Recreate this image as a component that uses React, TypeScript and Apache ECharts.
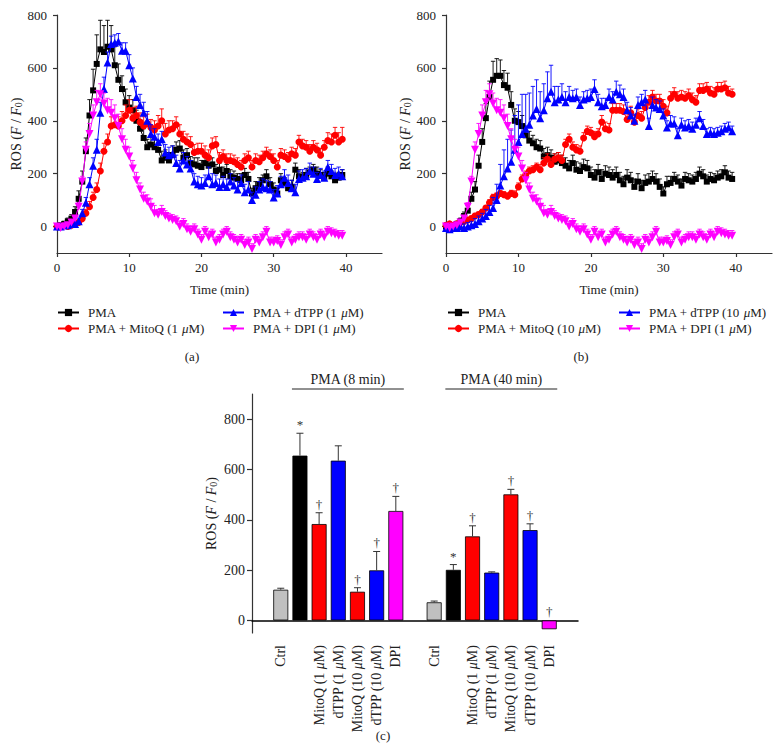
import React, { useEffect, useRef } from "react";
import * as echarts from "echarts";

const FONT = "Liberation Serif, Times New Roman, serif";
const TXT = "#222";
const AXIS = "#333";

// ---- Panels (a) and (b): time course ----
const TIMES = [
  0, 0.5, 1, 1.5, 2, 2.5, 3, 3.5, 4, 4.5,
  5, 5.5, 6, 6.5, 7, 7.5, 8, 8.5, 9, 9.5,
  10, 10.5, 11, 11.5, 12, 12.5, 13, 13.5, 14, 14.5,
  15, 15.5, 16, 16.5, 17, 17.5, 18, 18.5, 19, 19.5,
  20, 20.5, 21, 21.5, 22, 22.5, 23, 23.5, 24, 24.5,
  25, 25.5, 26, 26.5, 27, 27.5, 28, 28.5, 29, 29.5,
  30, 30.5, 31, 31.5, 32, 32.5, 33, 33.5, 34, 34.5,
  35, 35.5, 36, 36.5, 37, 37.5, 38, 38.5, 39, 39.5,
];
const X_TICKS = [0, 10, 20, 30, 40];
const Y_TICKS = [0, 200, 400, 600, 800];

const A_PMA = [
  0, 5, 10, 20, 30, 55, 105, 170, 285, 420,
  515, 615, 670, 660, 680, 670, 610, 555, 520, 470,
  450, 440, 400, 370, 335, 300, 310, 300, 290, 250,
  260, 250, 270, 290, 295, 260, 270, 240, 235, 230,
  225, 240, 230, 235, 210, 215, 195, 210, 190, 185,
  180, 175, 195, 180, 125, 145, 160, 175, 190, 160,
  140, 125, 175, 165, 145, 150, 215, 190, 185, 195,
  205, 215, 200, 195, 185, 200, 190, 175, 185, 195,
];
const A_PMA_ERR = [
  8, 8, 10, 12, 15, 20, 30, 40, 50, 60,
  80, 110, 110, 100, 100, 90, 70, 60, 50, 50,
  45, 40, 40, 35, 35, 30, 30, 30, 35, 35,
  30, 30, 35, 30, 30, 30, 25, 25, 25, 30,
  25, 25, 30, 25, 25, 25, 30, 25, 25, 25,
  20, 25, 25, 25, 20, 25, 25, 20, 25, 25,
  25, 20, 25, 20, 20, 25, 25, 25, 20, 25,
  20, 20, 25, 20, 20, 25, 20, 25, 20, 20,
];
const A_MITOQ = [
  0, 0, 5, 0, 5, 10, 15, 30, 50, 75,
  110, 140, 210, 285, 320, 380, 385, 380, 400, 420,
  440, 410, 420, 395, 380, 390, 375, 365, 380, 400,
  350, 365, 370, 385, 350, 330, 320, 310, 280, 285,
  285, 270, 260, 305, 310, 250, 265, 250, 250, 245,
  235, 225, 250, 260, 225, 250, 245, 260, 275, 265,
  250, 225, 270, 265, 255, 275, 270, 320, 305, 300,
  285, 300, 290, 270, 300, 325, 320, 345, 320, 330,
];
const A_MITOQ_ERR = [
  8, 8, 8, 8, 10, 10, 12, 15, 15, 20,
  20, 25, 30, 30, 30, 35, 35, 35, 35, 40,
  40, 40, 35, 35, 35, 35, 30, 35, 40, 45,
  40, 35, 30, 30, 35, 30, 30, 30, 30, 30,
  30, 35, 30, 30, 30, 30, 25, 25, 25, 25,
  25, 25, 25, 25, 25, 25, 25, 25, 25, 25,
  25, 25, 25, 25, 25, 25, 25, 25, 25, 25,
  25, 25, 25, 25, 25, 30, 30, 30, 35, 45,
];
const A_DTPP = [
  0, 0, 5, 5, 10, 10, 20, 50, 90, 160,
  230, 290, 430, 520, 620, 690, 695, 700, 665, 665,
  610, 560, 490, 460, 430, 400, 350, 340, 320, 330,
  280, 270, 275, 240, 220, 250, 235, 220, 170, 160,
  155, 165, 190, 160, 165, 150, 160, 150, 170, 155,
  140, 165, 130, 140, 100, 120, 140, 150, 145, 140,
  110, 125, 160, 185, 165, 145, 130, 180, 185, 190,
  210, 200, 180, 195, 185, 225, 210, 195, 200, 190,
];
const A_DTPP_ERR = [
  8, 8, 8, 8, 10, 10, 12, 15, 20, 25,
  30, 40, 40, 45, 40, 30, 30, 30, 30, 30,
  40, 40, 40, 40, 40, 35, 35, 30, 30, 30,
  30, 30, 30, 30, 30, 30, 30, 30, 30, 30,
  30, 30, 35, 40, 30, 30, 30, 30, 30, 30,
  30, 30, 30, 30, 30, 30, 30, 30, 30, 30,
  30, 30, 30, 30, 30, 30, 30, 30, 30, 30,
  30, 25, 25, 25, 25, 25, 25, 25, 25, 25,
];
const DPI = [
  0, -5, 0, 5, 15, 30, 75, 170, 290, 350,
  420, 470, 500, 465, 440, 430, 410, 380, 330, 290,
  265, 220, 175, 140, 105, 95, 75, 50, 45, 55,
  40, 30, 25, 20, 0, 10, -10, -20, -10, -30,
  -50, -20, -40, -30, -60, -50, -30, -20, -40, -50,
  -60, -50, -70, -60, -85, -50, -60, -40, -20, -60,
  -60, -55, -70, -40, -30, -60, -50, -40, -40, -50,
  -30, -40, -50, -30, -40, -20, -25, -30, -35, -35,
];
const DPI_ERR = [
  5, 5, 5, 5, 8, 10, 15, 20, 30, 40,
  40, 45, 40, 40, 45, 50, 50, 45, 40, 40,
  35, 30, 30, 25, 25, 25, 30, 30, 20, 25,
  20, 20, 20, 20, 20, 20, 20, 20, 20, 20,
  20, 20, 20, 20, 20, 20, 20, 20, 20, 20,
  20, 20, 20, 20, 20, 20, 20, 20, 20, 20,
  20, 20, 20, 20, 20, 20, 20, 20, 20, 20,
  20, 20, 20, 20, 20, 20, 20, 20, 20, 20,
];
const B_PMA = [
  0, 0, 5, 10, 20, 40, 60, 105, 140, 230,
  320, 410, 490, 555, 570, 570, 535, 525, 460, 400,
  395, 380, 345, 325, 315, 300, 295, 265, 270, 260,
  245, 250, 240, 230, 220, 240, 215, 210, 225, 220,
  195, 185, 205, 180, 200, 195, 185, 195, 175, 160,
  185, 175, 150, 170, 145, 165, 170, 180, 170, 150,
  125, 160, 165, 180, 170, 155, 180, 175, 170, 180,
  200, 190, 170, 180, 175, 185, 190, 205, 185, 180,
];
const B_PMA_ERR = [
  8, 8, 8, 10, 12, 15, 20, 25, 30, 40,
  50, 55, 60, 70, 65, 60, 55, 55, 50, 45,
  40, 40, 35, 35, 30, 30, 30, 30, 30, 30,
  30, 30, 30, 30, 30, 30, 30, 30, 30, 30,
  30, 30, 30, 35, 30, 30, 30, 30, 30, 30,
  30, 30, 30, 30, 30, 30, 30, 30, 30, 30,
  25, 30, 25, 25, 25, 25, 25, 25, 25, 25,
  25, 25, 25, 25, 25, 25, 25, 25, 25, 25,
];
const B_MITOQ = [
  5, 10, 5, 10, 15, 20, 25, 30, 40, 45,
  55, 70, 90, 110, 115, 125, 120, 115, 125, 120,
  150, 180, 195, 210, 215, 225, 215, 240, 255, 235,
  255, 260, 250, 310, 330, 300, 290, 285, 335, 360,
  355, 340, 350, 395, 370, 365, 440, 440, 440, 435,
  405, 430, 395, 420, 410, 450, 470, 490, 475, 475,
  455, 430, 485, 500, 485, 490, 485, 495, 480, 470,
  515, 515, 520, 505, 500, 520, 520, 525, 505, 500,
];
const B_MITOQ_ERR = [
  8, 8, 8, 8, 8, 8, 10, 10, 10, 10,
  10, 10, 12, 12, 12, 12, 12, 12, 12, 15,
  15, 15, 15, 15, 15, 15, 20, 20, 20, 20,
  20, 20, 20, 20, 20, 20, 20, 20, 20, 20,
  20, 20, 20, 25, 25, 25, 25, 25, 25, 25,
  25, 25, 25, 25, 25, 25, 25, 25, 25, 25,
  25, 25, 25, 25, 25, 25, 25, 25, 25, 25,
  25, 25, 25, 25, 25, 25, 25, 25, 25, 20,
];
const B_DTPP = [
  -5, -10, -5, -5, 0, -5, 0, 5, 10, 20,
  30, 40, 55, 70, 100, 155, 190, 220, 245, 290,
  320, 350, 370, 385, 420, 445, 410, 440, 485, 510,
  470, 480, 490, 470, 490, 485, 490, 460, 480, 485,
  490, 520, 470, 455, 460, 490, 480, 510, 500, 490,
  440, 420, 400, 460, 470, 480, 380, 460, 450, 445,
  420, 375, 390, 390, 345, 385, 375, 380, 370, 385,
  410, 380, 350, 355, 350, 355, 360, 370, 375, 360,
];
const B_DTPP_ERR = [
  10, 10, 10, 10, 10, 15, 15, 15, 20, 20,
  20, 25, 25, 40, 60, 80, 100, 110, 120, 130,
  140, 150, 130, 120, 110, 110, 100, 100, 100, 100,
  60, 50, 50, 40, 40, 30, 30, 30, 30, 30,
  30, 35, 30, 30, 25, 30, 30, 40, 35, 30,
  30, 30, 25, 30, 30, 35, 30, 30, 30, 30,
  25, 25, 30, 25, 25, 25, 25, 25, 25, 25,
  25, 25, 20, 20, 20, 20, 20, 20, 20, 20,
];

// ---- Panel (c): bar chart ----
const BAR_LABELS = [
  "", "Ctrl", "", "MitoQ (1 μM)", "dTPP (1 μM)", "MitoQ (10 μM)", "dTPP (10 μM)", "DPI",
  "", "Ctrl", "", "MitoQ (1 μM)", "dTPP (1 μM)", "MitoQ (10 μM)", "dTPP (10 μM)", "DPI", "",
];
const BAR_VALUES = [null, 122, 655, 383, 635, 114, 199, 435, null, 72, 201, 334, 190, 501, 359, -35, null];
const BAR_ERRORS = [null, 6, 89, 45, 59, 16, 75, 58, null, 5, 21, 42, 3, 20, 25, 0, null];
const BAR_MARKS = ["", "", "*", "†", "", "†", "†", "†", "", "", "*", "†", "", "†", "†", "†", ""];
const GROUP_LABELS = ["PMA (8 min)", "PMA (40 min)"];
const GROUP_SPANS = [
  [2, 7],
  [10, 15],
];

const C_GRAY = "#c0c0c0";
const C_BLACK = "#000000";
const C_RED = "#ff0000";
const C_BLUE = "#0000ff";
const C_MAG = "#ff00ff";
const BAR_COLORS = [
  "", C_GRAY, C_BLACK, C_RED, C_BLUE, C_RED, C_BLUE, C_MAG,
  "", C_GRAY, C_BLACK, C_RED, C_BLUE, C_RED, C_BLUE, C_MAG, "",
];

const DOWN_TRI = "path://M0,0L10,0L5,9Z";

const rosName = "{n|ROS (}{i|F}{n| / }{i|F}{s|0}{n|)}";
const rosRich = (size: number) => ({
  n: { fontFamily: FONT, fontSize: size, color: TXT },
  i: { fontFamily: FONT, fontSize: size, fontStyle: "italic", color: TXT },
  s: { fontFamily: FONT, fontSize: size - 4, color: TXT, verticalAlign: "bottom", lineHeight: size - 2 },
});
const muFmt = (s: string) => s.replace("μ", "{i|μ}");

function errRender(color: string) {
  return (params: any, api: any) => {
    const t = api.value(0);
    const v = api.value(1);
    const e = api.value(2);
    const p0 = api.coord([t, v]);
    const p1 = api.coord([t, v + e]);
    return {
      type: "group",
      children: [
        { type: "line", shape: { x1: p0[0], y1: p0[1], x2: p1[0], y2: p1[1] }, style: { stroke: color, lineWidth: 0.9 } },
        { type: "line", shape: { x1: p1[0] - 2.2, y1: p1[1], x2: p1[0] + 2.2, y2: p1[1] }, style: { stroke: color, lineWidth: 0.9 } },
      ],
    };
  };
}

type SeriesDef = { name: string; vals: number[]; errs: number[]; color: string; symbol: string; size: number };

function panelSeries(idx: number, defs: SeriesDef[]) {
  const out: any[] = [];
  defs.forEach((d, k) => {
    out.push({
      type: "custom",
      xAxisIndex: idx,
      yAxisIndex: idx,
      silent: true,
      z: 2 + k * 2,
      itemStyle: { color: d.color },
      encode: { x: 0, y: 1 },
      data: TIMES.map((t, i) => [t, d.vals[i], d.errs[i]]),
      renderItem: errRender(d.color),
    });
    out.push({
      type: "line",
      name: d.name,
      xAxisIndex: idx,
      yAxisIndex: idx,
      z: 3 + k * 2,
      data: TIMES.map((t, i) => [t, d.vals[i]]),
      symbol: d.symbol,
      symbolSize: d.size,
      showSymbol: true,
      itemStyle: { color: d.color },
      lineStyle: { color: d.color, width: 1 },
    });
  });
  return out;
}

const axisLineStyle = { color: AXIS, width: 1.2 };
const tickLabel = (size: number) => ({ fontFamily: FONT, fontSize: size, color: TXT });

function timeX(idx: number) {
  return {
    gridIndex: idx,
    type: "value",
    min: 0,
    max: 45,
    axisLine: { show: true, onZero: false, lineStyle: axisLineStyle },
    axisTick: { show: true, length: 4, customValues: X_TICKS, lineStyle: axisLineStyle },
    axisLabel: { ...tickLabel(13), margin: 8, customValues: X_TICKS },
    splitLine: { show: false },
    name: "Time (min)",
    nameLocation: "middle",
    nameGap: 30,
    nameTextStyle: { fontFamily: FONT, fontSize: 13, color: TXT },
  };
}
function rosY(idx: number, min: number, max: number, size: number, gap: number, margin: number, tick: number) {
  return {
    gridIndex: idx,
    type: "value",
    min,
    max,
    axisLine: { show: true, onZero: false, lineStyle: axisLineStyle },
    axisTick: { show: true, length: tick, customValues: Y_TICKS, lineStyle: axisLineStyle },
    axisLabel: { ...tickLabel(size), margin, customValues: Y_TICKS },
    splitLine: { show: false },
    name: rosName,
    nameLocation: "middle",
    nameGap: gap,
    nameTextStyle: { fontFamily: FONT, fontSize: 14, color: TXT, rich: rosRich(14) },
  };
}

function legend(left: number, names: string[]) {
  return {
    left,
    top: 306,
    orient: "vertical",
    padding: 0,
    itemGap: 3,
    itemWidth: 21,
    itemHeight: 9,
    selectedMode: false,
    data: names,
    formatter: muFmt,
    textStyle: {
      fontFamily: FONT,
      fontSize: 13,
      color: TXT,
      lineHeight: 13,
      padding: [0, 0, 0, 4],
      rich: { i: { fontFamily: FONT, fontSize: 13, fontStyle: "italic", color: TXT } },
    },
  };
}

function buildOption() {
  const aDefs: SeriesDef[] = [
    { name: "PMA", vals: A_PMA, errs: A_PMA_ERR, color: C_BLACK, symbol: "rect", size: 6 },
    { name: "PMA + MitoQ (1 μM)", vals: A_MITOQ, errs: A_MITOQ_ERR, color: C_RED, symbol: "circle", size: 7 },
    { name: "PMA + dTPP (1 μM)", vals: A_DTPP, errs: A_DTPP_ERR, color: C_BLUE, symbol: "triangle", size: 8 },
    { name: "PMA + DPI (1 μM)", vals: DPI, errs: DPI_ERR, color: C_MAG, symbol: DOWN_TRI, size: 8 },
  ];
  const bDefs: SeriesDef[] = [
    { name: "PMA", vals: B_PMA, errs: B_PMA_ERR, color: C_BLACK, symbol: "rect", size: 6 },
    { name: "PMA + MitoQ (10 μM)", vals: B_MITOQ, errs: B_MITOQ_ERR, color: C_RED, symbol: "circle", size: 7 },
    { name: "PMA + dTPP (10 μM)", vals: B_DTPP, errs: B_DTPP_ERR, color: C_BLUE, symbol: "triangle", size: 8 },
    { name: "PMA + DPI (1 μM)", vals: DPI, errs: DPI_ERR, color: C_MAG, symbol: DOWN_TRI, size: 8 },
  ];

  const barData = BAR_VALUES.map((v, i) =>
    v == null ? null : { value: v, itemStyle: { color: BAR_COLORS[i] } }
  );
  const barErrData: number[][] = [];
  BAR_VALUES.forEach((v, i) => {
    if (v != null) barErrData.push([i, v, BAR_ERRORS[i] as number]);
  });

  return {
    animation: false,
    backgroundColor: "#ffffff",
    textStyle: { fontFamily: FONT },
    grid: [
      { left: 57, top: 15, width: 325, height: 238 },
      { left: 446, top: 15, width: 326, height: 238 },
      { left: 252, top: 394, width: 326, height: 239 },
    ],
    xAxis: [
      timeX(0),
      timeX(1),
      {
        gridIndex: 2,
        type: "category",
        data: BAR_LABELS,
        axisLine: { show: true, onZero: true, lineStyle: { color: "#000", width: 1.5 } },
        axisTick: { show: false },
        axisLabel: {
          interval: 0,
          rotate: 90,
          margin: 12,
          ...tickLabel(14),
          formatter: muFmt,
          rich: { i: { fontFamily: FONT, fontSize: 14, fontStyle: "italic", color: TXT } },
        },
        splitLine: { show: false },
      },
    ],
    yAxis: [
      rosY(0, -100, 800, 13, 34, 10, 4),
      rosY(1, -100, 800, 13, 34, 10, 4),
      rosY(2, -50, 900, 14, 34, 7, 5),
    ],
    legend: [
      legend(57, ["PMA", "PMA + MitoQ (1 μM)"]),
      legend(222, ["PMA + dTPP (1 μM)", "PMA + DPI (1 μM)"]),
      legend(447, ["PMA", "PMA + MitoQ (10 μM)"]),
      legend(618, ["PMA + dTPP (10 μM)", "PMA + DPI (1 μM)"]),
    ],
    series: [
      ...panelSeries(0, aDefs),
      ...panelSeries(1, bDefs),
      {
        type: "bar",
        xAxisIndex: 2,
        yAxisIndex: 2,
        barWidth: 15,
        data: barData,
        itemStyle: { borderColor: "#000", borderWidth: 0.8 },
        z: 2,
      },
      {
        type: "custom",
        xAxisIndex: 2,
        yAxisIndex: 2,
        silent: true,
        z: 3,
        colorBy: "series",
        itemStyle: { color: "#333" },
        encode: { x: 0, y: 1 },
        data: barErrData,
        renderItem: (params: any, api: any) => {
          const i = api.value(0);
          const v = api.value(1);
          const e = api.value(2);
          const base = api.coord([i, v]);
          const top = api.coord([i, v + e]);
          const children: any[] = [];
          if (e > 0) {
            children.push({ type: "line", shape: { x1: base[0], y1: base[1], x2: top[0], y2: top[1] }, style: { stroke: "#333", lineWidth: 1 } });
            children.push({ type: "line", shape: { x1: top[0] - 3.5, y1: top[1], x2: top[0] + 3.5, y2: top[1] }, style: { stroke: "#333", lineWidth: 1 } });
          }
          const mark = BAR_MARKS[i];
          if (mark) {
            const anc = api.coord([i, Math.max(v + e, 0)]);
            children.push({
              type: "text",
              x: anc[0],
              y: anc[1] - 2,
              style: { text: mark, align: "center", verticalAlign: "bottom", fontFamily: FONT, fontSize: 13, fill: "#333", textFill: "#333" },
            });
          }
          return { type: "group", children };
        },
      },
      {
        type: "custom",
        xAxisIndex: 2,
        yAxisIndex: 2,
        silent: true,
        z: 3,
        colorBy: "series",
        itemStyle: { color: "#222" },
        encode: { x: [0, 1], y: 2 },
        data: GROUP_SPANS.map((s) => [s[0], s[1], 900]),
        renderItem: (params: any, api: any) => {
          const a = api.coord([api.value(0), api.value(2)]);
          const b = api.coord([api.value(1), api.value(2)]);
          const y = a[1] - 5;
          return {
            type: "group",
            children: [
              { type: "line", shape: { x1: a[0] - 8, y1: y, x2: b[0] + 8, y2: y }, style: { stroke: "#222", lineWidth: 1 } },
              {
                type: "text",
                x: (a[0] + b[0]) / 2,
                y: y - 3,
                style: { text: GROUP_LABELS[params.dataIndex], align: "center", verticalAlign: "bottom", fontFamily: FONT, fontSize: 14, fill: TXT, textFill: TXT },
              },
            ],
          };
        },
      },
    ],
    graphic: [
      { type: "text", x: 192, y: 356, style: { text: "(a)", align: "center", verticalAlign: "middle", fontFamily: FONT, fontSize: 13, fill: TXT } },
      { type: "text", x: 581, y: 356, style: { text: "(b)", align: "center", verticalAlign: "middle", fontFamily: FONT, fontSize: 13, fill: TXT } },
      { type: "text", x: 383, y: 735, style: { text: "(c)", align: "center", verticalAlign: "middle", fontFamily: FONT, fontSize: 13, fill: TXT } },
    ],
  };
}

export default function App() {
  const ref = useRef<HTMLDivElement>(null);
  useEffect(() => {
    if (!ref.current) return;
    const chart = echarts.init(ref.current, null, { renderer: "svg" });
    chart.setOption(buildOption() as any);
    return () => chart.dispose();
  }, []);
  return <div ref={ref} style={{ position: "absolute", left: 0, top: 0, width: 780, height: 748, background: "#fff" }} />;
}
